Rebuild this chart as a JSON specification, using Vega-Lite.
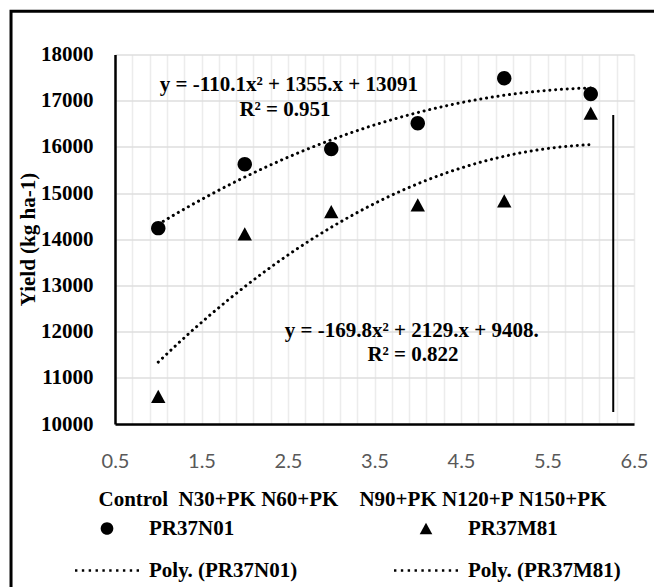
{
  "$schema": "https://vega.github.io/schema/vega-lite/v6.json",
  "width": 519,
  "height": 369.5,
  "autosize": {"type": "none"},
  "padding": {"left": 115, "top": 54.5, "right": 20, "bottom": 163},
  "background": "white",
  "config": {
    "view": {"stroke": null},
    "font": "Liberation Serif",
    "axis": {"titleFont": "Liberation Serif", "titleFontWeight": "bold", "titleColor": "black"}
  },
  "data": {
    "values": [
      {"x": 1, "yield": 14240, "series": "PR37N01"},
      {"x": 2, "yield": 15625, "series": "PR37N01"},
      {"x": 3, "yield": 15955, "series": "PR37N01"},
      {"x": 4, "yield": 16510, "series": "PR37N01"},
      {"x": 5, "yield": 17485, "series": "PR37N01"},
      {"x": 6, "yield": 17145, "series": "PR37N01"},
      {"x": 1, "yield": 10600, "series": "PR37M81"},
      {"x": 2, "yield": 14115, "series": "PR37M81"},
      {"x": 3, "yield": 14600, "series": "PR37M81"},
      {"x": 4, "yield": 14745, "series": "PR37M81"},
      {"x": 5, "yield": 14830, "series": "PR37M81"},
      {"x": 6, "yield": 16730, "series": "PR37M81"}
    ]
  },
  "layer": [
    {
      "mark": {"type": "point", "filled": true, "color": "black", "opacity": 1, "size": 2090, "strokeWidth": 0},
      "encoding": {
        "x": {
          "field": "x",
          "type": "quantitative",
          "scale": {"domain": [0.5, 6.5], "nice": false, "zero": false},
          "axis": {
            "values": [0.5, 0.7, 0.9, 1.1, 1.3, 1.5, 1.7, 1.9, 2.1, 2.3, 2.5, 2.7, 2.9, 3.1, 3.3, 3.5, 3.7, 3.9, 4.1, 4.3, 4.5, 4.7, 4.9, 5.1, 5.3, 5.5, 5.7, 5.9, 6.1, 6.3, 6.5],
            "tickCount": 100,
            "format": ".1f",
            "labelExpr": "indexof(['0.5','1.5','2.5','3.5','4.5','5.5','6.5'], datum.label) >= 0 ? datum.label : ''",
            "labelFont": "Lato",
            "labelFontSize": 20,
            "labelColor": "#595959",
            "labelPadding": 27,
            "labelFlush": false,
            "labelOverlap": false,
            "ticks": false,
            "grid": true,
            "gridColor": "#ececec",
            "gridWidth": 1.5,
            "domainColor": "black",
            "domainWidth": 2.5,
            "title": "Control\u00a0\u00a0N30+PK\u00a0N60+PK\u00a0\u00a0\u00a0\u00a0N90+PK\u00a0N120+P\u00a0N150+PK",
            "titleFontSize": 21,
            "titleAnchor": "start",
            "titleAlign": "left",
            "titleBaseline": "middle",
            "titleX": -17,
            "titleY": 75
          }
        },
        "y": {
          "field": "yield",
          "type": "quantitative",
          "scale": {"domain": [10000, 18000], "nice": false, "zero": false},
          "axis": {
            "values": [10000, 11000, 12000, 13000, 14000, 15000, 16000, 17000, 18000],
            "tickCount": 100,
            "format": "d",
            "labelFont": "Liberation Serif",
            "labelFontWeight": "bold",
            "labelFontSize": 21,
            "labelColor": "black",
            "labelPadding": 22,
            "ticks": false,
            "grid": true,
            "gridColor": "#dedede",
            "gridWidth": 1.5,
            "domainColor": "black",
            "domainWidth": 2.5,
            "title": "Yield (kg ha-1)",
            "titleFontSize": 21,
            "titleAngle": -90,
            "titleAlign": "center",
            "titleBaseline": "middle",
            "titleX": -87,
            "titleY": 184.5
          }
        },
        "shape": {
          "field": "series",
          "type": "nominal",
          "scale": {
            "domain": ["PR37N01", "PR37M81", "Poly. (PR37N01)", "Poly. (PR37M81)"],
            "range": [
              "M-0.315,0A0.315,0.315,0,1,1,0.315,0A0.315,0.315,0,1,1,-0.315,0Z",
              "M0,-0.29L0.315,0.29L-0.315,0.29Z",
              "M-1.6,-0.065L-1.48,-0.065L-1.48,0.065L-1.6,0.065ZM-1.258,-0.065L-1.138,-0.065L-1.138,0.065L-1.258,0.065ZM-0.916,-0.065L-0.796,-0.065L-0.796,0.065L-0.916,0.065ZM-0.573,-0.065L-0.453,-0.065L-0.453,0.065L-0.573,0.065ZM-0.231,-0.065L-0.111,-0.065L-0.111,0.065L-0.231,0.065ZM0.111,-0.065L0.231,-0.065L0.231,0.065L0.111,0.065ZM0.453,-0.065L0.573,-0.065L0.573,0.065L0.453,0.065ZM0.796,-0.065L0.916,-0.065L0.916,0.065L0.796,0.065ZM1.138,-0.065L1.258,-0.065L1.258,0.065L1.138,0.065ZM1.48,-0.065L1.6,-0.065L1.6,0.065L1.48,0.065Z",
              "M-1.6,-0.065L-1.48,-0.065L-1.48,0.065L-1.6,0.065ZM-1.258,-0.065L-1.138,-0.065L-1.138,0.065L-1.258,0.065ZM-0.916,-0.065L-0.796,-0.065L-0.796,0.065L-0.916,0.065ZM-0.573,-0.065L-0.453,-0.065L-0.453,0.065L-0.573,0.065ZM-0.231,-0.065L-0.111,-0.065L-0.111,0.065L-0.231,0.065ZM0.111,-0.065L0.231,-0.065L0.231,0.065L0.111,0.065ZM0.453,-0.065L0.573,-0.065L0.573,0.065L0.453,0.065ZM0.796,-0.065L0.916,-0.065L0.916,0.065L0.796,0.065ZM1.138,-0.065L1.258,-0.065L1.258,0.065L1.138,0.065ZM1.48,-0.065L1.6,-0.065L1.6,0.065L1.48,0.065Z"
            ]
          },
          "legend": {
            "title": null,
            "orient": "none",
            "direction": "horizontal",
            "legendX": -28,
            "legendY": 454,
            "columns": 2,
            "columnPadding": 96,
            "rowPadding": 12,
            "padding": 0,
            "symbolSize": 1600,
            "symbolFillColor": "black",
            "symbolStrokeWidth": 0,
            "labelOffset": 22,
            "labelFont": "Liberation Serif",
            "labelFontWeight": "bold",
            "labelFontSize": 21,
            "labelColor": "black",
            "labelLimit": 400,
            "encode": {
              "symbols": {
                "update": {
                  "fill": {"value": "black"},
                  "fillOpacity": {"value": 1},
                  "opacity": {"value": 1},
                  "strokeWidth": {"value": 0}
                }
              }
            }
          }
        }
      }
    },
    {
      "transform": [
        {"regression": "yield", "on": "x", "groupby": ["series"], "method": "poly", "order": 2, "extent": [1, 6]}
      ],
      "mark": {"type": "line", "color": "black", "strokeWidth": 3, "strokeDash": [0.1, 5.7], "strokeCap": "round"},
      "encoding": {
        "x": {"field": "x", "type": "quantitative"},
        "y": {"field": "yield", "type": "quantitative"},
        "detail": {"field": "series"}
      }
    },
    {
      "data": {"values": [{"name": "frame"}]},
      "mark": {"type": "rect", "fillOpacity": 0, "stroke": "black", "strokeWidth": 3},
      "encoding": {
        "x": {"datum": -0.702, "type": "quantitative"},
        "x2": {"datum": 7.2},
        "y": {"datum": 18935, "type": "quantitative"},
        "y2": {"datum": 4000}
      }
    },
    {
      "data": {"values": [{"name": "line"}]},
      "mark": {"type": "rule", "color": "black", "strokeWidth": 2},
      "encoding": {
        "x": {"datum": 6.26, "type": "quantitative"},
        "y": {"datum": 16690, "type": "quantitative"},
        "y2": {"datum": 10262}
      }
    },
    {
      "data": {"values": [{"label": "y = -110.1x² + 1355.x + 13091"}]},
      "mark": {"type": "text", "font": "Liberation Serif", "fontWeight": "bold", "fontSize": 21, "align": "center", "baseline": "middle", "color": "black"},
      "encoding": {
        "x": {"datum": 2.51, "type": "quantitative"},
        "y": {"datum": 17330, "type": "quantitative"},
        "text": {"field": "label"}
      }
    },
    {
      "data": {"values": [{"label": "R² = 0.951"}]},
      "mark": {"type": "text", "font": "Liberation Serif", "fontWeight": "bold", "fontSize": 21, "align": "center", "baseline": "middle", "color": "black"},
      "encoding": {
        "x": {"datum": 2.465, "type": "quantitative"},
        "y": {"datum": 16800, "type": "quantitative"},
        "text": {"field": "label"}
      }
    },
    {
      "data": {"values": [{"label": "y = -169.8x² + 2129.x + 9408."}]},
      "mark": {"type": "text", "font": "Liberation Serif", "fontWeight": "bold", "fontSize": 21, "align": "center", "baseline": "middle", "color": "black"},
      "encoding": {
        "x": {"datum": 3.93, "type": "quantitative"},
        "y": {"datum": 12020, "type": "quantitative"},
        "text": {"field": "label"}
      }
    },
    {
      "data": {"values": [{"label": "R² = 0.822"}]},
      "mark": {"type": "text", "font": "Liberation Serif", "fontWeight": "bold", "fontSize": 21, "align": "center", "baseline": "middle", "color": "black"},
      "encoding": {
        "x": {"datum": 3.945, "type": "quantitative"},
        "y": {"datum": 11490, "type": "quantitative"},
        "text": {"field": "label"}
      }
    }
  ]
}
